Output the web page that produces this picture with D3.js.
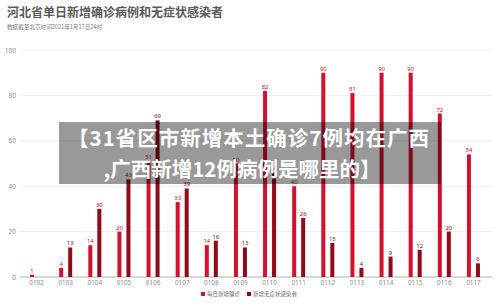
<!DOCTYPE html>
<html>
<head>
<meta charset="utf-8">
<script src="https://cdn.jsdelivr.net/npm/d3@7"></script>
<style>
  body { margin: 0; background: #fff; }
  svg { display: block; font-family: "Noto Sans CJK SC", "Noto Sans", sans-serif; }
</style>
</head>
<body>
<div id="chart"></div>
<script>
// data
const dates = ['0102','0103','0104','0105','0106','0107','0108','0109','0110','0111','0112','0113','0114','0115','0116','0117'];
const confirmed = [1, 4, 14, 20, 51, 33, 14, 50, 82, 40, 90, 81, 90, 90, 72, 54];
const asymptomatic = [null, 13, 30, 43, 69, 39, 16, 13, 46, 26, 15, 4, 9, 12, 20, 6];
const yTicks = [0, 20, 40, 60, 80, 100];
const seriesNames = ['每日新增确诊', '新增无症状感染者'];
const colors = ['#d3112e', '#8e0b17'];

const width = 500, height = 306;
const margin = { top: 50, right: 12, bottom: 29, left: 22 };

const svg = d3.select('#chart').append('svg')
  .attr('width', width)
  .attr('height', height);

// title
svg.append('text')
  .attr('x', 7).attr('y', 17)
  .attr('font-size', 12).attr('font-weight', 'bold')
  .attr('fill', '#5a5a5a')
  .text('河北省单日新增确诊病例和无症状感染者');
svg.append('text')
  .attr('x', 7).attr('y', 29)
  .attr('font-size', 5.6)
  .attr('fill', '#777')
  .text('数据截至北京时间2021年1月17日24时');

const x = d3.scaleBand()
  .domain(dates)
  .range([margin.left, width - margin.right]);

const y = d3.scaleLinear()
  .domain([0, 100])
  .range([height - margin.bottom, margin.top]);

// grid
svg.append('g')
  .selectAll('line')
  .data(yTicks.slice(1))
  .join('line')
    .attr('x1', 20).attr('x2', 492)
    .attr('y1', d => y(d)).attr('y2', d => y(d))
    .attr('stroke', '#e8e8e8').attr('stroke-width', 0.8);

// y axis labels
const yAxis = d3.axisLeft(y).tickValues(yTicks).tickSize(0).tickPadding(4);
svg.append('g')
  .attr('transform', `translate(${20},0)`)
  .call(yAxis)
  .call(g => g.select('.domain').remove())
  .call(g => g.selectAll('text')
    .attr('font-size', 6.5)
    .attr('fill', '#8a8a8a')
    .attr('font-family', '"Noto Sans", sans-serif'));

// x axis
const xAxis = d3.axisBottom(x).tickSize(0).tickPadding(4);
svg.append('g')
  .attr('transform', `translate(0,${y(0)})`)
  .call(xAxis)
  .call(g => g.select('.domain').attr('stroke', '#b0b0b0').attr('d', `M20,0H492`))
  .call(g => g.selectAll('text')
    .attr('font-size', 6.3)
    .attr('fill', '#8a8a8a')
    .attr('font-family', '"Noto Sans", sans-serif'));

const barW = 4;
const offsets = [-4.5, 4.5];
const seriesData = [confirmed, asymptomatic];

seriesData.forEach((vals, i) => {
  const pts = dates.map((d, j) => ({ date: d, v: vals[j] })).filter(p => p.v != null);
  const g = svg.append('g');
  g.selectAll('rect')
    .data(pts)
    .join('rect')
      .attr('x', d => x(d.date) + x.bandwidth() / 2 + offsets[i] - barW / 2)
      .attr('width', barW)
      .attr('y', d => y(d.v))
      .attr('height', d => y(0) - y(d.v))
      .attr('fill', colors[i]);
  g.selectAll('text')
    .data(pts)
    .join('text')
      .attr('x', d => x(d.date) + x.bandwidth() / 2 + offsets[i])
      .attr('y', d => y(d.v) - 2)
      .attr('text-anchor', 'middle')
      .attr('font-size', 6)
      .attr('font-family', '"Noto Sans", sans-serif')
      .attr('fill', colors[i])
      .text(d => d.v);
});

// legend
const legend = svg.append('g').attr('transform', 'translate(201,296)');
const legX = [0, 46];
seriesNames.forEach((name, i) => {
  legend.append('rect')
    .attr('x', legX[i]).attr('y', -4)
    .attr('width', 4).attr('height', 4)
    .attr('fill', colors[i]);
  legend.append('text')
    .attr('x', legX[i] + 6).attr('y', 0)
    .attr('font-size', 5.5)
    .attr('fill', '#666')
    .text(name);
});

// headline overlay
svg.append('rect')
  .attr('x', 59).attr('y', 122)
  .attr('width', 382).attr('height', 62)
  .attr('fill', 'rgba(0,0,0,0.4)');
const headline = ['【31省区市新增本土确诊7例均在广西', ',广西新增12例病例是哪里的】'];
const headX = [249, 242];
const headSpacing = [1, 0];
svg.append('g')
  .selectAll('text')
  .data(headline)
  .join('text')
    .attr('x', (d, i) => headX[i])
    .attr('y', (d, i) => 146 + i * 31)
    .attr('text-anchor', 'middle')
    .attr('font-size', 20.5)
    .attr('font-weight', 'bold')
    .attr('letter-spacing', (d, i) => headSpacing[i])
    .attr('fill', '#fff')
    .text(d => d);
</script>
</body>
</html>
